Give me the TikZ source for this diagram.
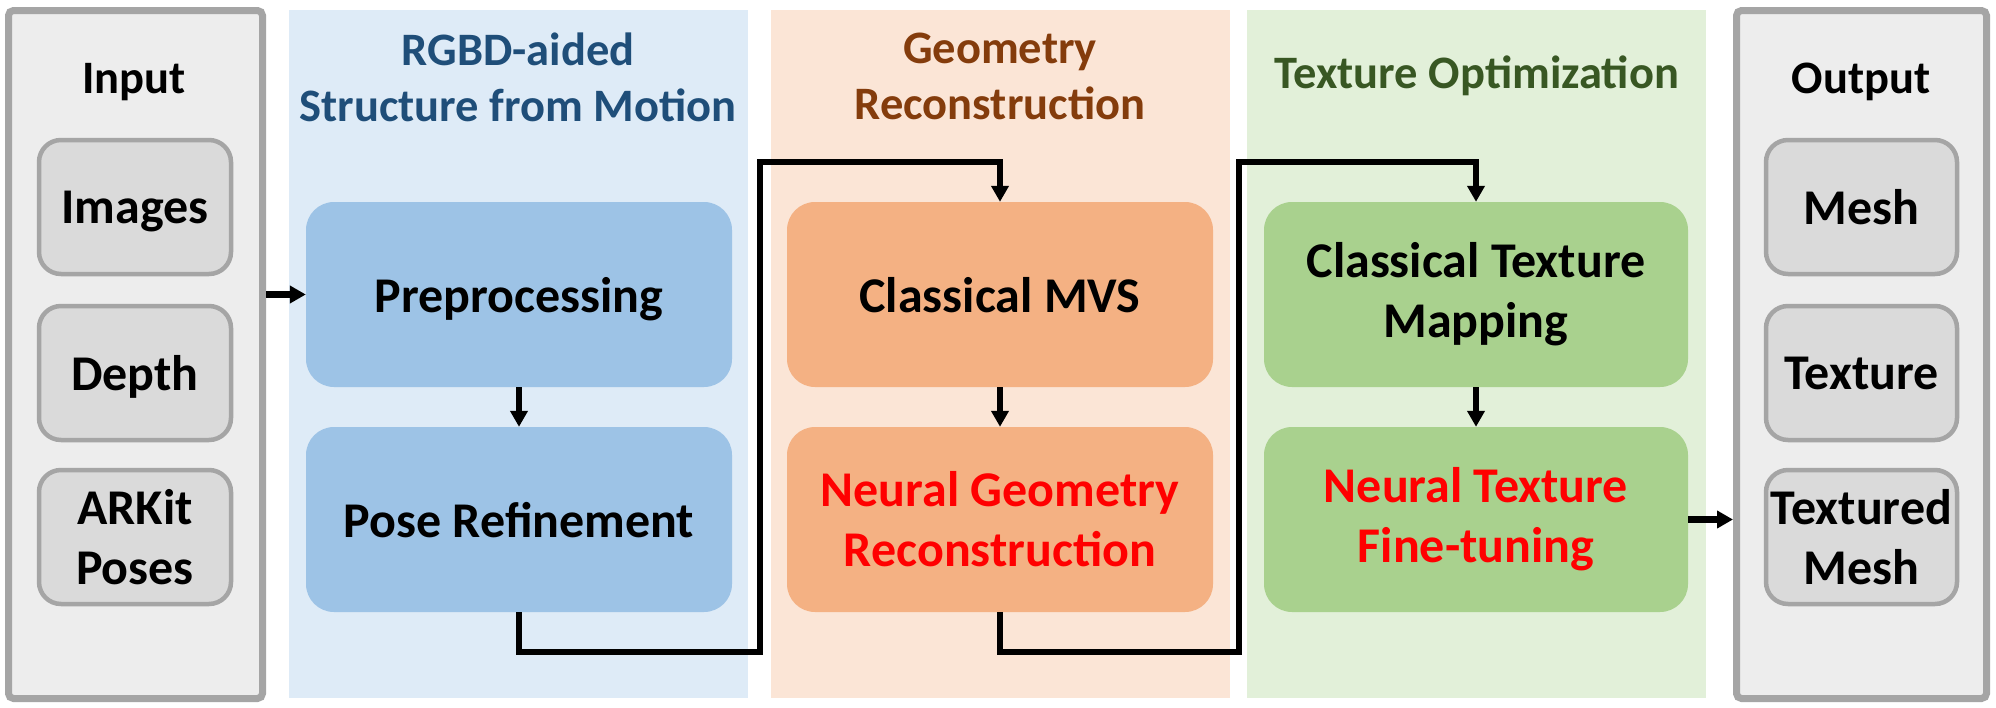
\documentclass[tikz,border=0pt]{standalone}
\usepackage{fontspec}
\setmainfont{Carlito}
\usetikzlibrary{arrows.meta}
\definecolor{iogray}{HTML}{A5A5A5}
\definecolor{iofill}{HTML}{EDEDED}
\definecolor{boxgray}{HTML}{DADADA}
\definecolor{bluepanel}{HTML}{DEEBF7}
\definecolor{bluebox}{HTML}{9DC3E6}
\definecolor{bluetitle}{HTML}{1F4E79}
\definecolor{orpanel}{HTML}{FBE5D6}
\definecolor{orbox}{HTML}{F4B183}
\definecolor{ortitle}{HTML}{843C0C}
\definecolor{grpanel}{HTML}{E2F0D9}
\definecolor{grbox}{HTML}{A9D18E}
\definecolor{grtitle}{HTML}{385723}
\definecolor{neuralred}{HTML}{FF0000}
\tikzset{
  boxfont/.style={font=\bfseries\fontsize{50}{60}\selectfont},
  titlefont/.style={font=\bfseries\fontsize{46.5}{56}\selectfont},
  panel/.style={draw=none, inner sep=0pt, minimum width=459pt, minimum height=688pt},
  iopanel/.style={draw=iogray, line width=7pt, fill=iofill, rounded corners=5pt,
    inner sep=0pt, minimum width=254pt, minimum height=688pt},
  iobox/.style={boxfont, draw=iogray, line width=4.5pt, fill=boxgray, rounded corners=22pt,
    inner sep=0pt, minimum width=192pt, minimum height=134pt, align=center},
  stepbox/.style={boxfont, draw=none, rounded corners=28pt, inner sep=0pt,
    minimum width=426pt, minimum height=185pt, align=center},
  ttl/.style={titlefont, align=center, inner sep=0pt},
  conn/.style={line width=6.5pt, line join=miter},
  arr/.style={conn, -{Triangle[width=17pt,length=16pt]}},
}
\begin{document}
\begin{tikzpicture}[x=1pt,y=-1pt]
\useasboundingbox[fill=white] (0,0) rectangle (1996,707);

% panels
\node[iopanel] (inpanel) at (135.5,354.5) {};
\node[panel, fill=bluepanel] (bluep) at (518.5,354) {};
\node[panel, fill=orpanel] (orp) at (1000,354) {};
\node[panel, fill=grpanel] (grp) at (1476.5,354) {};
\node[iopanel, minimum width=250pt] (outpanel) at (1861.5,354.5) {};

% titles
\node[ttl, anchor=base] (intitle) at (134,93) {Input};
\node[ttl, anchor=base] (outtitle) at (1861,93) {Output};
\node[ttl, text=bluetitle] (bluetitle) at (518,77) {RGBD-aided\\Structure from Motion};
\node[ttl, text=ortitle] (ortitle) at (1000,76) {Geometry\\Reconstruction};
\node[ttl, text=grtitle, anchor=base] (grtitle) at (1477,88) {Texture Optimization};

% input boxes
\node[iobox, text depth=0pt] (images) at (135,207) {Images};
\node[iobox, text depth=0pt] (depth) at (135,373) {Depth};
\node[iobox] (arkit) at (135,537) {ARKit\\Poses};

% output boxes
\node[iobox, text depth=0pt, minimum width=191pt] (mesh) at (1861.5,207) {Mesh};
\node[iobox, text depth=0pt, minimum width=191pt] (texture) at (1861.5,373) {Texture};
\node[iobox, minimum width=191pt] (texmesh) at (1861.5,537) {Textured\\Mesh};

% process boxes
\node[stepbox, fill=bluebox, text depth=0pt] (pre) at (519,294.5) {Preprocessing};
\node[stepbox, fill=bluebox, text depth=0pt] (pose) at (519,519.5) {Pose Refinement};
\node[stepbox, fill=orbox, text depth=0pt] (mvs) at (1000,294.5) {Classical MVS};
\node[stepbox, fill=orbox, text=neuralred] (ngr) at (1000,519.5) {Neural Geometry\\Reconstruction};
\node[stepbox, fill=grbox, minimum width=424pt] (ctm) at (1476,294.5) {Classical Texture\\Mapping};
\node[stepbox, fill=grbox, minimum width=424pt, text=neuralred] (ntf) at (1476,519.5) {Neural Texture\\Fine-tuning};

% connector corners
\coordinate (b1) at (760,652);
\coordinate (t1) at (760,162);
\coordinate (b2) at (1239,652);
\coordinate (t2) at (1239,162);

% connectors
\draw[arr] (pre.west -| inpanel.east) -- (pre.west);
\draw[arr] (pre.south) -- (pose.north);
\draw[arr] (mvs.south) -- (ngr.north);
\draw[arr] (ctm.south) -- (ntf.north);
\draw[arr] (pose.south) |- (b1) -- (t1) -| (mvs.north);
\draw[arr] (ngr.south) |- (b2) -- (t2) -| (ctm.north);
\draw[arr] (ntf.east) -- (ntf.east -| outpanel.west);
\end{tikzpicture}
\end{document}
